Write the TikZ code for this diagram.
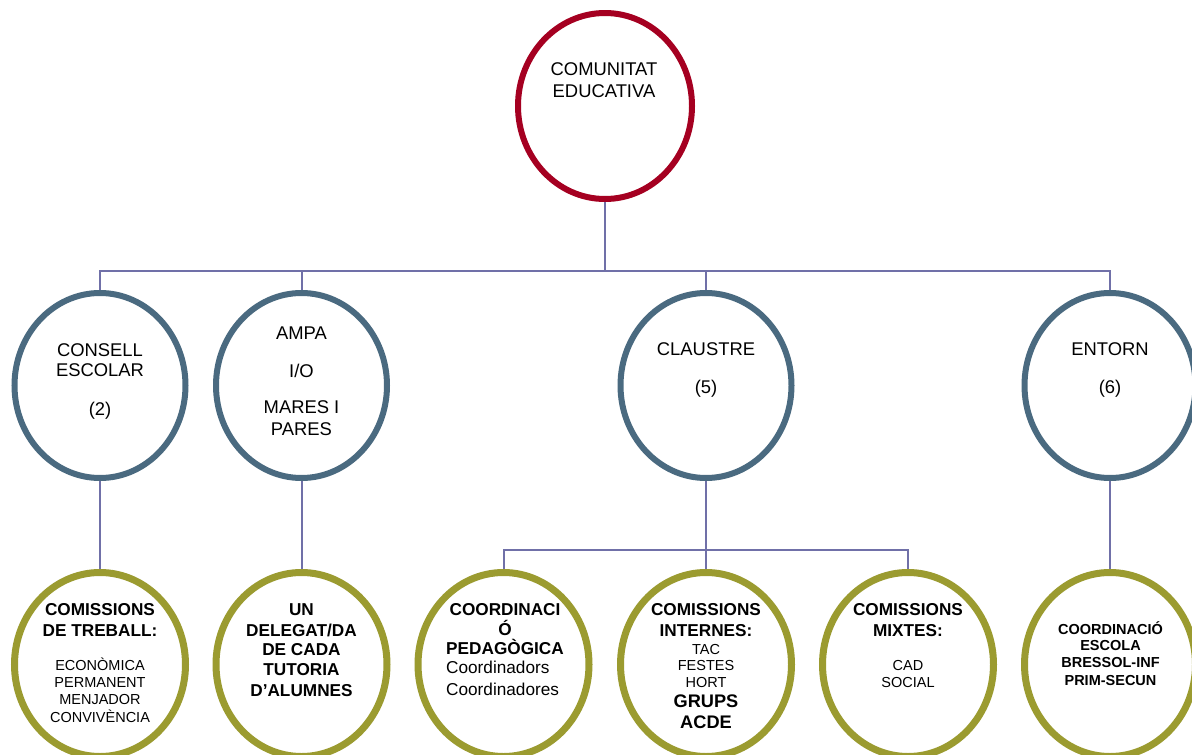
\documentclass[tikz,border=0pt]{standalone}
\usepackage{fontspec}
\setmainfont{Liberation Sans}
\usetikzlibrary{shapes.geometric}
\definecolor{cred}{HTML}{A50021}
\definecolor{cblue}{HTML}{4A6A80}
\definecolor{colive}{HTML}{9B9B30}
\definecolor{cline}{HTML}{7070A8}
\newcommand\fR{\fontsize{18.4}{21}\selectfont}
\newcommand\fB{\fontsize{17.2}{20}\selectfont\bfseries}
\newcommand\fS{\fontsize{14.5}{17}\selectfont}
\newcommand\fM{\fontsize{17.2}{20}\selectfont}
\newcommand\fG{\fontsize{18.2}{21}\selectfont\bfseries}
\newcommand\fE{\fontsize{14.5}{17}\selectfont\bfseries}
\begin{document}
\begin{tikzpicture}[x=1pt,y=-1pt,
  topc/.style={ellipse, draw=cred, line width=6pt, minimum width=174pt, minimum height=186pt, inner sep=0pt},
  midc/.style={ellipse, draw=cblue, line width=6pt, minimum width=171pt, minimum height=185pt, inner sep=0pt},
  botc/.style={ellipse, draw=colive, line width=7pt, minimum width=171pt, minimum height=184pt, inner sep=0pt},
  conn/.style={draw=cline, line width=2pt},
  tl/.style={anchor=base, inner sep=0pt, text=black}]
\useasboundingbox[fill=white] (0,0) rectangle (1192,755);

\node[topc] (comunitat) at (605,106) {};
\node[midc] (consell) at (100,385.5) {};
\node[midc] (ampa) at (301.5,385.5) {};
\node[midc] (claustre) at (706,385.5) {};
\node[midc] (entorn) at (1110,385.5) {};
\node[botc] (treball) at (100,664.5) {};
\node[botc] (delegat) at (301.5,664.5) {};
\node[botc] (pedag) at (503.5,664.5) {};
\node[botc] (internes) at (706,664.5) {};
\node[botc] (mixtes) at (908,664.5) {};
\node[botc] (escola) at (1110,664.5) {};

\coordinate (busA) at (605,271);
\coordinate (busB) at (706,549.5);
\draw[conn] (comunitat.south) -- (busA);
\draw[conn] (busA) -| (consell.north);
\draw[conn] (busA) -| (ampa.north);
\draw[conn] (busA) -| (claustre.north);
\draw[conn] (busA) -| (entorn.north);
\draw[conn] (consell.south) -- (treball.north);
\draw[conn] (ampa.south) -- (delegat.north);
\draw[conn] (claustre.south) -- (busB);
\draw[conn] (busB) -| (pedag.north);
\draw[conn] (busB) -- (internes.north);
\draw[conn] (busB) -| (mixtes.north);
\draw[conn] (entorn.south) -- (escola.north);

\foreach \yy/\tx [count=\i] in {75/{COMUNITAT},97/{EDUCATIVA}}
  \node[tl, font=\fR, name=tcom\i] at (604,\yy) {\tx};
\foreach \yy/\tx [count=\i] in {356/{CONSELL},376/{ESCOLAR},415/{(2)}}
  \node[tl, font=\fR, name=tcon\i] at (100,\yy) {\tx};
\foreach \yy/\tx [count=\i] in {339/{AMPA},377/{I/O},413/{MARES I},435/{PARES}}
  \node[tl, font=\fR, name=tamp\i] at (301.5,\yy) {\tx};
\foreach \yy/\tx [count=\i] in {355/{CLAUSTRE},393/{(5)}}
  \node[tl, font=\fR, name=tcla\i] at (706,\yy) {\tx};
\foreach \yy/\tx [count=\i] in {355/{ENTORN},393/{(6)}}
  \node[tl, font=\fR, name=tent\i] at (1110,\yy) {\tx};

\foreach \yy/\tx [count=\i] in {615/{\fB COMISSIONS},636/{\fB DE TREBALL:},670/{\fS ECONÒMICA},687/{\fS PERMANENT},704/{\fS MENJADOR},722/{\fS CONVIVÈNCIA}}
  \node[tl, name=ttre\i] at (100,\yy) {\tx};
\foreach \yy/\tx [count=\i] in {615/{UN},636/{DELEGAT/DA},655/{DE CADA},675/{TUTORIA},696/{D’ALUMNES}}
  \node[tl, font=\fB, name=tdel\i] at (301.5,\yy) {\tx};
\foreach \yy/\tx [count=\i] in {615/{COORDINACI},635/{Ó},654/{PEDAGÒGICA}}
  \node[tl, font=\fB, name=tped\i] at (505,\yy) {\tx};
\foreach \yy/\tx [count=\i] in {673/{Coordinadors},695/{Coordinadores}}
  \node[tl, font=\fM, anchor=base west, name=tcoo\i] at (446,\yy) {\tx};
\foreach \yy/\tx [count=\i] in {615/{\fB COMISSIONS},636/{\fB INTERNES:},654/{\fS TAC},670/{\fS FESTES},687/{\fS HORT},707/{\fG GRUPS},728/{\fG ACDE}}
  \node[tl, name=tint\i] at (706,\yy) {\tx};
\foreach \yy/\tx [count=\i] in {615/{\fB COMISSIONS},636/{\fB MIXTES:},670/{\fS CAD},687/{\fS SOCIAL}}
  \node[tl, name=tmix\i] at (908,\yy) {\tx};
\foreach \yy/\tx [count=\i] in {634/{COORDINACIÓ},650/{ESCOLA},667/{BRESSOL-INF},685/{PRIM-SECUN}}
  \node[tl, font=\fE, name=tesc\i] at (1110.5,\yy) {\tx};
\end{tikzpicture}
\end{document}
